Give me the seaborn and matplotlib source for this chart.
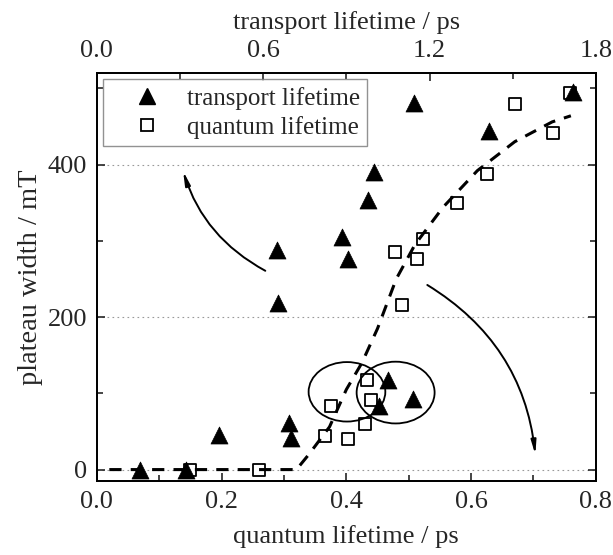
import matplotlib
matplotlib.use("Agg")
import matplotlib.pyplot as plt
import seaborn as sns
import pandas as pd
from matplotlib.patches import Ellipse
from matplotlib.ticker import MultipleLocator

# transport lifetime points (top axis)
trans_t = [0.156, 0.322, 0.44, 0.693, 0.70, 0.649, 0.653, 0.884, 0.905, 0.978, 1.0,
           1.017, 1.05, 1.14, 1.143, 1.414, 1.717]
trans_w = [0, 0, 45, 61, 42, 288, 218, 305, 276, 353, 390, 84, 118, 93, 481, 444, 495]

# quantum lifetime points (bottom axis)
quant_t = [0.150, 0.260, 0.366, 0.402, 0.375, 0.43, 0.433, 0.44, 0.489, 0.478, 0.513,
           0.523, 0.577, 0.625, 0.67, 0.731, 0.758]
quant_w = [0, 0, 44, 40, 84, 60, 118, 91, 216, 285, 276, 302, 350, 388, 480, 442, 494]

# dashed guide line
guide_t = [0.02, 0.32, 0.34, 0.373, 0.40, 0.425, 0.45, 0.48, 0.51, 0.555, 0.61, 0.67, 0.73, 0.76]
guide_w = [0, 0, 20, 56, 105, 140, 185, 250, 295, 344, 392, 430, 456, 464]

sns.set_style("ticks")
plt.rcParams['font.family'] = ['Liberation Serif', 'DejaVu Serif']

df_q = pd.DataFrame({'t': quant_t, 'w': quant_w})
df_t = pd.DataFrame({'t': trans_t, 'w': trans_w})
df_g = pd.DataFrame({'t': guide_t, 'w': guide_w})

fig = plt.figure(figsize=(6.13, 5.55), dpi=100)
ax = fig.add_axes([0.158, 0.1333, 0.814, 0.735])

for yv in [0, 200, 400]:
    ax.axhline(yv, color='#999999', lw=0.8, ls=(0, (1.5, 3)), zorder=0)

sns.scatterplot(data=df_q, x='t', y='w', ax=ax, marker='s', s=80,
                facecolor='white', edgecolor='black', linewidth=1.3, zorder=3)
sns.lineplot(data=df_g, x='t', y='w', ax=ax, sort=False, color='black', lw=2.2,
             dashes=False, zorder=4)
ax.lines[-1].set_dashes([4, 3])

# circles around the crossing points
ax.add_patch(Ellipse((0.401, 102), 0.123, 78, fill=False, ec='black', lw=1.3, zorder=5))
ax.add_patch(Ellipse((0.479, 101), 0.125, 81, fill=False, ec='black', lw=1.3, zorder=5))

ax.annotate('', xy=(0.137, 395), xytext=(0.274, 259),
            arrowprops=dict(arrowstyle='-|>,head_length=0.8,head_width=0.15', color='black',
                            lw=1.4, connectionstyle='arc3,rad=-0.21'))
ax.annotate('', xy=(0.7035, 16), xytext=(0.526, 244),
            arrowprops=dict(arrowstyle='-|>,head_length=0.8,head_width=0.15', color='black',
                            lw=1.4, connectionstyle='arc3,rad=-0.25'))

ax.set_xlim(0, 0.8)
ax.set_ylim(-15, 520)
ax.xaxis.set_major_locator(MultipleLocator(0.2))
ax.xaxis.set_minor_locator(MultipleLocator(0.1))
ax.yaxis.set_major_locator(MultipleLocator(200))
ax.yaxis.set_minor_locator(MultipleLocator(100))
ax.tick_params(which='both', direction='in', right=True, top=False, labelsize=19, width=1.2)
ax.tick_params(which='major', length=6, pad=7)
ax.tick_params(which='minor', length=4)
ax.set_xticks([0, 0.2, 0.4, 0.6, 0.8], ['0.0', '0.2', '0.4', '0.6', '0.8'])
ax.set_xlabel('quantum lifetime / ps', fontsize=19, labelpad=9)
ax.set_ylabel('plateau width / mT', fontsize=20.5, labelpad=3)

ax2 = ax.twiny()
sns.scatterplot(data=df_t, x='t', y='w', ax=ax2, marker='^', s=150,
                color='black', edgecolor='black', linewidth=0.5, zorder=6)
ax2.set_xlim(0, 1.8)
ax2.xaxis.set_major_locator(MultipleLocator(0.6))
ax2.xaxis.set_minor_locator(MultipleLocator(0.3))
ax2.set_xticks([0, 0.6, 1.2, 1.8], ['0.0', '0.6', '1.2', '1.8'])
ax2.tick_params(which='both', direction='in', labelsize=19, width=1.2)
ax2.tick_params(which='major', length=6, pad=8)
ax2.tick_params(which='minor', length=4)
ax2.set_xlabel('transport lifetime / ps', fontsize=19, labelpad=8)
ax2.set_ylabel('')

for a in (ax, ax2):
    for sp in a.spines.values():
        sp.set_linewidth(1.3)
        sp.set_color('black')

h_t = plt.Line2D([], [], marker='^', ls='', color='black', markersize=12)
h_q = plt.Line2D([], [], marker='s', ls='', mfc='white', mec='black', mew=1.3, markersize=9)
leg = ax2.legend([h_t, h_q], ['transport lifetime', 'quantum lifetime'], loc='upper left',
                 bbox_to_anchor=(0.012, 0.985), fontsize=18, frameon=True, fancybox=False,
                 borderpad=0.3, handlelength=2.9, handletextpad=0.15, labelspacing=0.25,
                 borderaxespad=0)
leg.get_frame().set_edgecolor('#777777')
leg.get_frame().set_linewidth(1.0)

fig.savefig('out.png', dpi=100)
